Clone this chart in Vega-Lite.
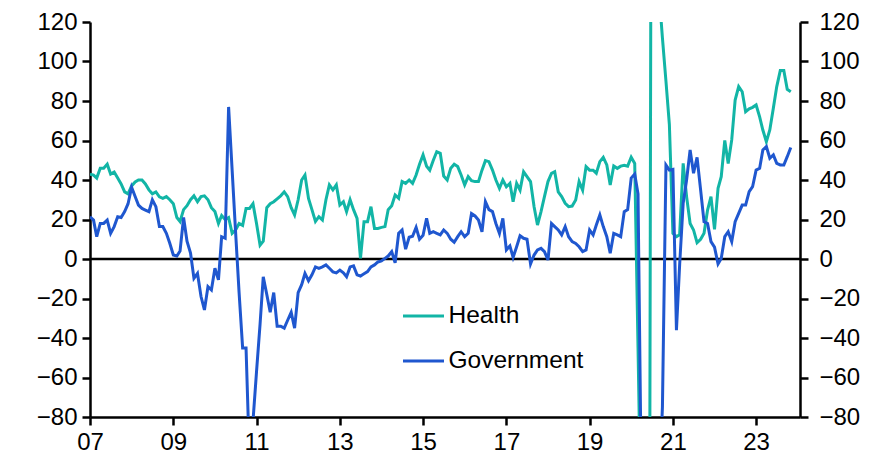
{
  "$schema": "https://vega.github.io/schema/vega-lite/v6.json",
  "width": 710,
  "height": 395,
  "autosize": {"type": "none"},
  "padding": {"left": 90, "top": 22, "right": 71, "bottom": 58},
  "background": "white",
  "config": {
    "view": {"stroke": null},
    "font": "Liberation Sans",
    "axis": {"grid": false, "labelFont": "Liberation Sans", "labelFontSize": 24, "labelColor": "black", "domainColor": "black", "domainWidth": 2.5, "tickColor": "black", "tickWidth": 2.5, "tickSize": 8, "title": null}
  },
  "layer": [
    {
      "data": {"values": [{}]},
      "mark": {"type": "rule", "color": "black", "strokeWidth": 2.5},
      "encoding": {
        "y": {"datum": 0, "type": "quantitative", "scale": {"domain": [-80, 120]},
          "axis": {"orient": "right", "values": [-80, -60, -40, -20, 0, 20, 40, 60, 80, 100, 120], "labelPadding": 11, "title": null}}
      }
    },
    {
      "data": {"values": [
        {"date":"2007-01","Health":43,"Government":21.4},{"date":"2007-02","Health":42.5,"Government":19.7},{"date":"2007-03","Health":41,"Government":11.3},{"date":"2007-04","Health":46,"Government":18},{"date":"2007-05","Health":46,"Government":18},{"date":"2007-06","Health":48,"Government":19.7},{"date":"2007-07","Health":43,"Government":13},{"date":"2007-08","Health":44,"Government":16.4},{"date":"2007-09","Health":41,"Government":21.4},{"date":"2007-10","Health":38,"Government":21},{"date":"2007-11","Health":34,"Government":24},{"date":"2007-12","Health":33,"Government":28},
        {"date":"2008-01","Health":37,"Government":36.3},{"date":"2008-02","Health":39,"Government":31.6},{"date":"2008-03","Health":40,"Government":27.3},{"date":"2008-04","Health":40,"Government":25.6},{"date":"2008-05","Health":38,"Government":24.8},{"date":"2008-06","Health":35,"Government":24},{"date":"2008-07","Health":33,"Government":30},{"date":"2008-08","Health":34,"Government":26.5},{"date":"2008-09","Health":31.5,"Government":16.4},{"date":"2008-10","Health":30.7,"Government":16.4},{"date":"2008-11","Health":31.6,"Government":13},{"date":"2008-12","Health":30,"Government":8},
        {"date":"2009-01","Health":28,"Government":2},{"date":"2009-02","Health":21,"Government":1.5},{"date":"2009-03","Health":19,"Government":4},{"date":"2009-04","Health":25,"Government":21},{"date":"2009-05","Health":27,"Government":9},{"date":"2009-06","Health":30,"Government":3},{"date":"2009-07","Health":32,"Government":-9.8},{"date":"2009-08","Health":29,"Government":-7.3},{"date":"2009-09","Health":31.6,"Government":-19},{"date":"2009-10","Health":32,"Government":-25.8},{"date":"2009-11","Health":30,"Government":-14},{"date":"2009-12","Health":26,"Government":-15.7},
        {"date":"2010-01","Health":24,"Government":-4.7},{"date":"2010-02","Health":18,"Government":-10.6},{"date":"2010-03","Health":22,"Government":11.3},{"date":"2010-04","Health":20,"Government":10.5},{"date":"2010-05","Health":21,"Government":77},{"date":"2010-06","Health":13,"Government":45},{"date":"2010-07","Health":14.7,"Government":14},{"date":"2010-08","Health":18,"Government":-17},{"date":"2010-09","Health":17,"Government":-45},{"date":"2010-10","Health":25.6,"Government":-45},{"date":"2010-11","Health":25.6,"Government":-103},{"date":"2010-12","Health":28,"Government":-82},
        {"date":"2011-01","Health":18,"Government":-57},{"date":"2011-02","Health":7,"Government":-33},{"date":"2011-03","Health":9,"Government":-9},{"date":"2011-04","Health":26,"Government":-18},{"date":"2011-05","Health":28,"Government":-27},{"date":"2011-06","Health":29,"Government":-17},{"date":"2011-07","Health":30.5,"Government":-34},{"date":"2011-08","Health":32,"Government":-34},{"date":"2011-09","Health":34,"Government":-35},{"date":"2011-10","Health":31.6,"Government":-31},{"date":"2011-11","Health":26,"Government":-27},{"date":"2011-12","Health":22.3,"Government":-35},
        {"date":"2012-01","Health":30,"Government":-17},{"date":"2012-02","Health":40,"Government":-13},{"date":"2012-03","Health":42.5,"Government":-7.3},{"date":"2012-04","Health":30.7,"Government":-11},{"date":"2012-05","Health":25,"Government":-8},{"date":"2012-06","Health":19,"Government":-4},{"date":"2012-07","Health":21.4,"Government":-4.7},{"date":"2012-08","Health":19.7,"Government":-4},{"date":"2012-09","Health":30,"Government":-3},{"date":"2012-10","Health":37.5,"Government":-4.7},{"date":"2012-11","Health":35,"Government":-6.5},{"date":"2012-12","Health":37.5,"Government":-7},
        {"date":"2013-01","Health":27.3,"Government":-5.6},{"date":"2013-02","Health":29,"Government":-7},{"date":"2013-03","Health":24,"Government":-9},{"date":"2013-04","Health":30,"Government":-4},{"date":"2013-05","Health":25,"Government":-3.5},{"date":"2013-06","Health":20.6,"Government":-8},{"date":"2013-07","Health":0.3,"Government":-8.6},{"date":"2013-08","Health":18.9,"Government":-7.5},{"date":"2013-09","Health":18.9,"Government":-6.4},{"date":"2013-10","Health":26.5,"Government":-4},{"date":"2013-11","Health":15.5,"Government":-3},{"date":"2013-12","Health":15.5,"Government":-1.5},
        {"date":"2014-01","Health":16,"Government":-1},{"date":"2014-02","Health":16.4,"Government":0.3},{"date":"2014-03","Health":25,"Government":1.5},{"date":"2014-04","Health":27,"Government":3.7},{"date":"2014-05","Health":32.4,"Government":-1.9},{"date":"2014-06","Health":30.7,"Government":13},{"date":"2014-07","Health":39.2,"Government":14.7},{"date":"2014-08","Health":38.3,"Government":5},{"date":"2014-09","Health":40,"Government":11},{"date":"2014-10","Health":38.3,"Government":11.5},{"date":"2014-11","Health":42.5,"Government":16},{"date":"2014-12","Health":48,"Government":10},
        {"date":"2015-01","Health":52.7,"Government":12},{"date":"2015-02","Health":47,"Government":20.6},{"date":"2015-03","Health":45,"Government":13},{"date":"2015-04","Health":50,"Government":13.8},{"date":"2015-05","Health":54.3,"Government":13},{"date":"2015-06","Health":53.5,"Government":12.2},{"date":"2015-07","Health":42,"Government":14.7},{"date":"2015-08","Health":40,"Government":13},{"date":"2015-09","Health":46,"Government":10},{"date":"2015-10","Health":48,"Government":8.5},{"date":"2015-11","Health":46.8,"Government":11.3},{"date":"2015-12","Health":42.5,"Government":13.8},
        {"date":"2016-01","Health":37.5,"Government":11.3},{"date":"2016-02","Health":41.7,"Government":13},{"date":"2016-03","Health":39.7,"Government":23},{"date":"2016-04","Health":39.2,"Government":21.8},{"date":"2016-05","Health":39.2,"Government":19.7},{"date":"2016-06","Health":45,"Government":13.8},{"date":"2016-07","Health":49.8,"Government":29},{"date":"2016-08","Health":49.3,"Government":25},{"date":"2016-09","Health":45,"Government":24},{"date":"2016-10","Health":40,"Government":18},{"date":"2016-11","Health":35.8,"Government":13},{"date":"2016-12","Health":40,"Government":20.6},
        {"date":"2017-01","Health":36.6,"Government":4.6},{"date":"2017-02","Health":38.3,"Government":6.6},{"date":"2017-03","Health":29,"Government":0.8},{"date":"2017-04","Health":38.3,"Government":6.2},{"date":"2017-05","Health":34.9,"Government":11.8},{"date":"2017-06","Health":44.2,"Government":10.5},{"date":"2017-07","Health":41.7,"Government":10},{"date":"2017-08","Health":39.2,"Government":-2.5},{"date":"2017-09","Health":26.5,"Government":2},{"date":"2017-10","Health":17.2,"Government":4.6},{"date":"2017-11","Health":24,"Government":5.4},{"date":"2017-12","Health":31.6,"Government":3.7},
        {"date":"2018-01","Health":39.2,"Government":-0.5},{"date":"2018-02","Health":43.4,"Government":18},{"date":"2018-03","Health":44.2,"Government":16.4},{"date":"2018-04","Health":34,"Government":14.7},{"date":"2018-05","Health":31.6,"Government":12.2},{"date":"2018-06","Health":28.2,"Government":16.4},{"date":"2018-07","Health":26.5,"Government":11.3},{"date":"2018-08","Health":26.8,"Government":8.8},{"date":"2018-09","Health":29.9,"Government":7.9},{"date":"2018-10","Health":39.2,"Government":6.2},{"date":"2018-11","Health":34.9,"Government":3.7},{"date":"2018-12","Health":46.8,"Government":4.6},
        {"date":"2019-01","Health":45,"Government":14.7},{"date":"2019-02","Health":45,"Government":12.2},{"date":"2019-03","Health":43.4,"Government":17.2},{"date":"2019-04","Health":49.3,"Government":22.3},{"date":"2019-05","Health":51.5,"Government":16.4},{"date":"2019-06","Health":47.6,"Government":11.3},{"date":"2019-07","Health":37.5,"Government":2.9},{"date":"2019-08","Health":47.1,"Government":13},{"date":"2019-09","Health":45.9,"Government":12.2},{"date":"2019-10","Health":47,"Government":11.3},{"date":"2019-11","Health":47.5,"Government":24},{"date":"2019-12","Health":47,"Government":25},
        {"date":"2020-01","Health":51.5,"Government":41},{"date":"2020-02","Health":48.4,"Government":43},{"date":"2020-03","Health":-45,"Government":33},{"date":"2020-04","Health":-150,"Government":-125},{"date":"2020-05","Health":-300,"Government":-300},{"date":"2020-06","Health":-400,"Government":-250},{"date":"2020-07","Health":400,"Government":-200},{"date":"2020-08","Health":250,"Government":-150},{"date":"2020-09","Health":135,"Government":-120},{"date":"2020-10","Health":112,"Government":-75},{"date":"2020-11","Health":90,"Government":47.6},{"date":"2020-12","Health":68,"Government":45},
        {"date":"2021-01","Health":13,"Government":45.4},{"date":"2021-02","Health":11.3,"Government":-36},{"date":"2021-03","Health":12.2,"Government":-3},{"date":"2021-04","Health":48.4,"Government":28.2},{"date":"2021-05","Health":31.6,"Government":40},{"date":"2021-06","Health":18,"Government":55.2},{"date":"2021-07","Health":14.7,"Government":43.4},{"date":"2021-08","Health":8.3,"Government":51.5},{"date":"2021-09","Health":10,"Government":35},{"date":"2021-10","Health":13,"Government":18.9},{"date":"2021-11","Health":24.8,"Government":18},{"date":"2021-12","Health":31.6,"Government":8.8},
        {"date":"2022-01","Health":15,"Government":6},{"date":"2022-02","Health":35.8,"Government":-2.5},{"date":"2022-03","Health":41.7,"Government":0.3},{"date":"2022-04","Health":60,"Government":11.3},{"date":"2022-05","Health":48.4,"Government":13.8},{"date":"2022-06","Health":60.3,"Government":8.8},{"date":"2022-07","Health":80.5,"Government":18.9},{"date":"2022-08","Health":87.3,"Government":23.1},{"date":"2022-09","Health":84.7,"Government":27.3},{"date":"2022-10","Health":74.6,"Government":27.3},{"date":"2022-11","Health":76,"Government":34.1},{"date":"2022-12","Health":76.8,"Government":36.6},
        {"date":"2023-01","Health":78,"Government":45},{"date":"2023-02","Health":72,"Government":45.9},{"date":"2023-03","Health":65.3,"Government":55.2},{"date":"2023-04","Health":59.4,"Government":56.9},{"date":"2023-05","Health":65.3,"Government":51},{"date":"2023-06","Health":76.3,"Government":52.7},{"date":"2023-07","Health":87.3,"Government":48.4},{"date":"2023-08","Health":95.4,"Government":47.6},{"date":"2023-09","Health":95.4,"Government":47.6},{"date":"2023-10","Health":85.9,"Government":51.8},{"date":"2023-11","Health":84.7,"Government":56.5}
      ]},
      "transform": [{"fold": ["Health", "Government"], "as": ["series", "value"]}],
      "mark": {"type": "line", "strokeWidth": 3, "clip": true},
      "encoding": {
        "x": {"field": "date", "type": "temporal",
          "scale": {"domain": [{"year": 2007, "month": 1, "date": 1}, {"year": 2024, "month": 1, "date": 21}]},
          "axis": {"values": [{"year": 2007, "month": 1, "date": 1}, {"year": 2009, "month": 1, "date": 1}, {"year": 2011, "month": 1, "date": 1}, {"year": 2013, "month": 1, "date": 1}, {"year": 2015, "month": 1, "date": 1}, {"year": 2017, "month": 1, "date": 1}, {"year": 2019, "month": 1, "date": 1}, {"year": 2021, "month": 1, "date": 1}, {"year": 2023, "month": 1, "date": 1}],
            "format": "%y", "labelPadding": 5, "labelFlush": false, "title": null}},
        "y": {"field": "value", "type": "quantitative", "scale": {"domain": [-80, 120]},
          "axis": {"orient": "left", "values": [-80, -60, -40, -20, 0, 20, 40, 60, 80, 100, 120], "labelPadding": 5, "title": null}},
        "color": {"field": "series", "type": "nominal",
          "scale": {"domain": ["Health", "Government"], "range": ["#12B5A6", "#1F57CF"]},
          "legend": {"orient": "none", "legendX": 311.5, "legendY": 272, "symbolType": "stroke", "symbolSize": 1681, "symbolStrokeWidth": 3, "labelFontSize": 24.5, "labelFont": "Liberation Sans", "labelColor": "black", "rowPadding": 11, "labelOffset": 3, "padding": 0, "title": null}}
      }
    }
  ],
  "resolve": {"axis": {"y": "independent"}}
}
